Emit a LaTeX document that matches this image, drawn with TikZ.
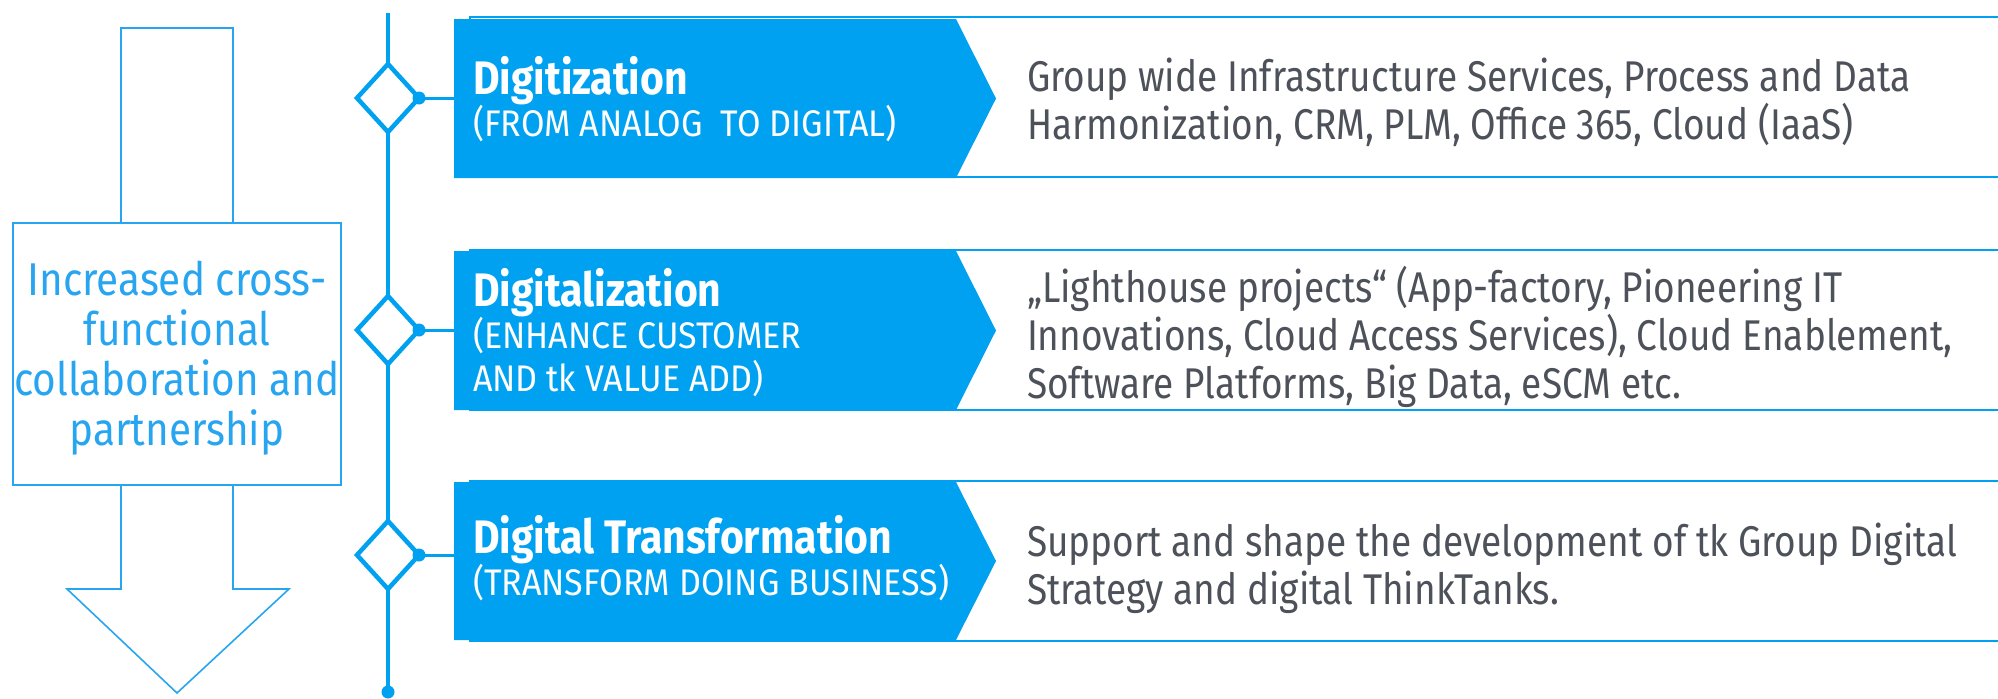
\documentclass[tikz,border=0pt]{standalone}
\usepackage{fontspec}
\usetikzlibrary{shapes.geometric}
\newfontfamily\dinfont[FakeStretch=0.86]{Fira Sans}
\newfontfamily\dinsub[FakeStretch=0.92]{Fira Sans}
\newfontfamily\dinleft[FakeStretch=0.88]{Fira Sans}
\newfontfamily\dintitle[FakeStretch=0.87]{Fira Sans Bold}
\definecolor{tkblue}{RGB}{0,161,241}
\definecolor{lineblue}{RGB}{40,165,240}
\definecolor{txtgrey}{RGB}{77,81,89}
\begin{document}
\begin{tikzpicture}[x=1pt,y=-1pt,
  every node/.style={inner sep=0pt, outer sep=0pt},
  leftline/.style={draw=lineblue, line width=1.6pt, fill=white},
  wbox/.style={draw=tkblue, line width=1.6pt, fill=white, anchor=north west, minimum width=1560pt, minimum height=160pt},
  chev/.style={fill=tkblue},
  ttl/.style={anchor=base west, text=white, font=\dintitle\fontsize{47}{52}\selectfont},
  sub/.style={anchor=base west, align=left, text=white, font=\dinsub\fontsize{37}{43}\selectfont},
  desc/.style={anchor=west, align=left, text=txtgrey, font=\dinfont\fontsize{43}{48}\selectfont},
  lefttext/.style={align=center, text=lineblue, font=\dinleft\fontsize{46}{50}\selectfont},
  dia/.style={diamond, draw=tkblue, line width=4.5pt, fill=white, minimum width=62pt, minimum height=68pt},
  spine/.style={draw=tkblue, line width=4pt},
  link/.style={draw=tkblue, line width=3pt},
  dot/.style={fill=tkblue}
]
\useasboundingbox (0,0) rectangle (1998,699);
\fill[white] (0,0) rectangle (1998,699);

% left arrow and box
\draw[leftline] (121,28) -- (233,28) -- (233,589) -- (289,589) -- (177,693) -- (67,589) -- (121,589) -- cycle;
\node[leftline, minimum width=328pt, minimum height=262pt] (coll) at (177,354) {};
\node[lefttext] (colltext) at (177,358) {Increased cross-\\functional\\collaboration and\\partnership};

% spine
\coordinate (top) at (388,13);
\coordinate (bot) at (388,692);
\draw[spine] (top) -- (bot);
\fill[dot] (bot) circle (6.5pt);

% white description boxes
\node[wbox] (w1) at (470,17) {};
\node[wbox] (w2) at (470,250) {};
\node[wbox] (w3) at (470,481) {};

% chevrons
\fill[chev] (454,19) -- (956,19) -- (996,98.5) -- (956,178) -- (454,178) -- cycle;
\fill[chev] (454,251) -- (956,251) -- (996,330.5) -- (956,410) -- (454,410) -- cycle;
\fill[chev] (454,482) -- (956,482) -- (996,561) -- (956,640) -- (454,640) -- cycle;
\coordinate (b1) at (454,98.5);
\coordinate (b2) at (454,330.5);
\coordinate (b3) at (454,561);

% diamonds
\node[dia] (d1) at (388,98) {};
\node[dia] (d2) at (388,330) {};
\node[dia] (d3) at (388,555) {};
\foreach \i in {1,2,3}{
  \draw[link] (d\i.east) -- (d\i.east -| b\i);
  \fill[dot] (d\i.east) circle (6.5pt);
}

% titles
\node[ttl] (t1) at (473,94) {Digitization};
\node[sub] (s1) at (473,136) {(FROM ANALOG~ TO DIGITAL)};
\node[ttl] (t2) at (473,306) {Digitalization};
\node[sub] (s2) at (473,348) {(ENHANCE CUSTOMER};
\node[sub] (s2b) at (473,391) {AND tk VALUE ADD)};
\node[ttl] (t3) at (473,553) {Digital Transformation};
\node[sub] (s3) at (473,595) {(TRANSFORM DOING BUSINESS)};

% descriptions
\node[desc] (x1) at (1027,102) {Group wide Infrastructure Services, Process and Data\\Harmonization, CRM, PLM, Office 365, Cloud (IaaS)};
\node[desc] (x2) at (1027,337) {„Lighthouse projects“ (App-factory, Pioneering IT\\Innovations, Cloud Access Services), Cloud Enablement,\\Software Platforms, Big Data, eSCM etc.};
\node[desc] (x3) at (1027,568) {Support and shape the development of tk Group Digital\\Strategy and digital ThinkTanks.};
\end{tikzpicture}
\end{document}
